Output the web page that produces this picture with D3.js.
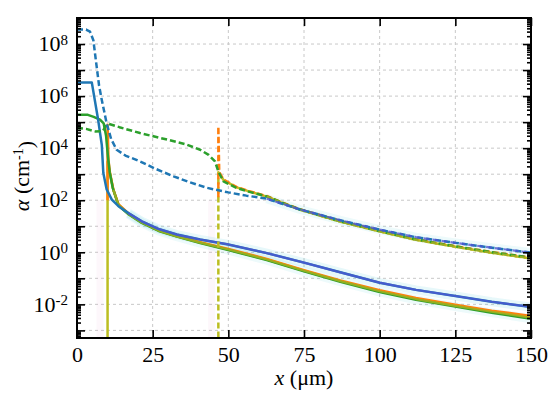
<!DOCTYPE html>
<html>
<head>
<meta charset="utf-8">
<script src="https://cdnjs.cloudflare.com/ajax/libs/d3/7.8.5/d3.min.js"></script>
<style>
  body { margin: 0; background: #fff; }
</style>
</head>
<body>
<div id="myChart"></div>
<script>
// values: [x (um), alpha (cm^-1)]
var blueSolid = [[0,3.3e6],[4.9,3.3e6],[7.0,1.2e5],[8.2,1.3e4],[8.7,1.1e3],[9.8,2.6e2],[11.5,105],
  [13.7,59],[17,32],[21.4,15.5],[26.9,7.9],[33,4.8],[40.7,3.1],[50,2.0],[62.7,0.93],[75,0.40],
  [87,0.17],[100,0.068],[112,0.036],[125,0.021],[137,0.0126],[150,0.0079]];
var greenSolid = [[0,1.9e5],[3.6,1.9e5],[5.5,1.6e5],[7.6,1.25e5],[8.8,9e4],[9.6,3e4],[10.2,5e3],
  [10.8,1.2e3],[11.8,300],[13.7,62],[17,29],[21.4,13.5],[27,6.6],[33,4.0],[40.7,2.25],[50,1.22],
  [62.7,0.50],[75,0.185],[87,0.074],[100,0.030],[112,0.0150],[125,0.0082],[137,0.0048],[150,0.0028]];
var orangeSolid = [[10.1,100],[10.1,8e4],[10.4,3.5e3],[10.9,1.1e3],[12,260],[13.7,70],[17,31],
  [21.4,14.5],[27,7.1],[33,4.3],[40.7,2.45],[50,1.35],[62.7,0.56],[75,0.205],[87,0.083],
  [100,0.035],[112,0.0175],[125,0.0096],[137,0.0057],[150,0.0036]];
var oliveSolid = [[10.1,1e-5],[10.1,3e3],[10.9,1.05e3],[12,250],[13.7,66],[17,30],[21.4,14],
  [27,6.8],[33,4.1],[40.7,2.35],[50,1.28],[62.7,0.53],[75,0.195],[87,0.078],[100,0.032],
  [112,0.0160],[125,0.0088],[137,0.0052],[150,0.0031]];

var blueDashed = [[0,3.6e8],[3,3.6e8],[4.3,3e8],[5.4,1.4e8],[6.5,1.35e7],[7.3,2.5e6],[8.2,7e5],
  [9.8,9e4],[11.3,2.2e4],[13.1,8.7e3],[16,5.2e3],[20.8,3.1e3],[26,1.6e3],[31.9,830],[37,500],
  [42.9,300],[50,200],[56,150],[62.7,115],[68,72],[73.7,44],[87,17],[100,7.4],[112,3.8],
  [125,2.3],[137,1.5],[150,0.97]];
var greenDashed = [[0,6e4],[3,5.5e4],[6,4.4e4],[8.5,4.5e4],[9.5,7e4],[10.6,8.5e4],[14,6.4e4],
  [20.8,3.8e4],[30,2.1e4],[36,1.4e4],[40.7,8.7e3],[43.5,5.5e3],[45.6,3.1e3],[46.7,1.26e3],
  [48.4,525],[52.8,295],[57,210],[62.7,141],[68,78],[73.7,44],[87,15.5],[100,6.5],[112,3.1],
  [125,1.7],[137,1.0],[150,0.62]];
var orangeDashed = [[46.7,130],[46.7,6.8e4],[47.0,1.2e3],[48.4,630],[52.8,320],[57,220],[62.7,145],
  [68,80],[73.7,45],[87,15.8],[100,6.6],[112,3.15],[125,1.72],[137,1.02],[150,0.63]];
var oliveDashed = [[46.7,1e-5],[46.7,1.2e3],[48.4,600],[52.8,310],[57,215],[62.7,138],[68,77],
  [73.7,43],[87,15],[100,6.3],[112,3.0],[125,1.62],[137,0.95],[150,0.58]];

var pinkSolid = [[7.6,1e-5],[7.6,100]];
var pinkDashed = [[44.5,1e-5],[44.5,100]];

var xTicks = [0, 25, 50, 75, 100, 125, 150];
var yDecades = [-3, -2, -1, 0, 1, 2, 3, 4, 5, 6, 7, 8];
var yLabelExps = [-2, 0, 2, 4, 6, 8];

const FONT = "'Liberation Serif'";
const margin = { top: 18, right: 19, bottom: 60, left: 77 };
const width = 550 - margin.left - margin.right;
const height = 398 - margin.top - margin.bottom;

var root = d3.select("#myChart").append("svg")
  .attr("width", 550)
  .attr("height", 398);
var svg = root.append("g")
  .attr("transform", "translate(" + margin.left + "," + margin.top + ")");

var x = d3.scaleLinear().domain([0, 150]).range([0, width]);
var y = d3.scaleLog().domain([5.1e-4, 1e9]).range([height, 0]);

// grid
svg.append("g").selectAll("line").data(yDecades).enter().append("line")
  .attr("x1", 0).attr("x2", width)
  .attr("y1", d => y(Math.pow(10, d))).attr("y2", d => y(Math.pow(10, d)))
  .attr("stroke", "#c8c8c8").attr("stroke-width", 1).attr("stroke-dasharray", "3,3");
svg.append("g").selectAll("line").data(xTicks.slice(1, -1)).enter().append("line")
  .attr("x1", d => x(d)).attr("x2", d => x(d))
  .attr("y1", 0).attr("y2", height)
  .attr("stroke", "#c8c8c8").attr("stroke-width", 1).attr("stroke-dasharray", "3,3");

svg.append("clipPath").attr("id", "clip")
  .append("rect").attr("width", width).attr("height", height);

var line = d3.line().x(d => x(d[0])).y(d => y(d[1]));
var plot = svg.append("g").attr("clip-path", "url(#clip)");

var layers = [
  { data: pinkSolid, color: "#e377c2", w: 7, op: 0.06 },
  { data: pinkDashed, color: "#e377c2", w: 7, op: 0.06 },
  { data: blueSolid.filter(d => d[0] >= 15), color: "#17becf", w: 9, op: 0.10 },
  { data: greenSolid.filter(d => d[0] >= 15), color: "#17becf", w: 9, op: 0.08 },
  { data: blueDashed.filter(d => d[0] >= 62), color: "#17becf", w: 9, op: 0.08 },
  { data: oliveSolid, color: "#bcbd22", w: 2.5 },
  { data: orangeSolid, color: "#ff7f0e", w: 2.5 },
  { data: greenSolid, color: "#2ca02c", w: 2.5 },
  { data: oliveSolid.filter(d => d[0] >= 12), color: "#a8b020", w: 2.2, op: 0.85 },
  { data: blueSolid, color: "#1f77b4", w: 2.5 },
  { data: blueSolid.filter(d => d[0] >= 15), color: "#4f55d2", w: 2.2, op: 0.8 },
  { data: oliveDashed, color: "#bcbd22", w: 2.5, dash: "6,3" },
  { data: orangeDashed, color: "#ff7f0e", w: 2.5, dash: "6,3" },
  { data: greenDashed, color: "#2ca02c", w: 2.5, dash: "6,3" },
  { data: oliveDashed.filter(d => d[0] >= 62.7), color: "#a8b020", w: 2.2, dash: "6,3", op: 0.85 },
  { data: blueDashed, color: "#1f77b4", w: 2.5, dash: "6,3" },
  { data: blueDashed.filter(d => d[0] >= 62.7), color: "#4f55d2", w: 2.2, dash: "6,3", op: 0.8 }
];

layers.forEach(function(s) {
  plot.append("path")
    .datum(s.data)
    .attr("d", line)
    .attr("fill", "none")
    .attr("stroke", s.color)
    .attr("stroke-width", s.w)
    .attr("stroke-opacity", s.op || 1)
    .attr("stroke-dasharray", s.dash || null)
    .attr("stroke-linejoin", "round");
});

// axes, ticks pointing inward
var majorY = yDecades.map(d => Math.pow(10, d));
var minorY = [];
yDecades.concat([-4]).forEach(function(e) {
  for (var k = 2; k < 10; k++) {
    var v = k * Math.pow(10, e);
    if (v >= y.domain()[0] && v <= y.domain()[1]) minorY.push(v);
  }
});

function styleAxis(g) {
  g.select(".domain").remove();
  g.selectAll(".tick line").attr("stroke", "#000").attr("stroke-width", 1.6);
}

svg.append("g")
  .call(d3.axisLeft(y).tickValues(majorY).tickSize(-8).tickFormat("")).call(styleAxis);
svg.append("g")
  .call(d3.axisLeft(y).tickValues(minorY).tickSize(-4).tickFormat("")).call(styleAxis);
svg.append("g").attr("transform", "translate(" + width + ",0)")
  .call(d3.axisRight(y).tickValues(majorY).tickSize(-8).tickFormat("")).call(styleAxis);
svg.append("g").attr("transform", "translate(" + width + ",0)")
  .call(d3.axisRight(y).tickValues(minorY).tickSize(-4).tickFormat("")).call(styleAxis);

var yLab = svg.append("g").selectAll("text").data(yLabelExps).enter().append("text")
  .attr("x", -9)
  .attr("y", d => y(Math.pow(10, d)))
  .attr("dy", "0.33em")
  .attr("text-anchor", "end")
  .style("font-family", FONT)
  .style("font-size", "22px");
yLab.append("tspan").text("10");
yLab.append("tspan").attr("dy", "-0.45em").style("font-size", "15px").text(d => String(d));

var xAxisG = svg.append("g").attr("transform", "translate(0," + height + ")")
  .call(d3.axisBottom(x).tickValues(xTicks).tickSize(-8).tickPadding(8))
  .call(styleAxis);
xAxisG.selectAll("text").style("font-family", FONT).style("font-size", "22px");
svg.append("g")
  .call(d3.axisTop(x).tickValues(xTicks).tickSize(-8).tickFormat(""))
  .call(styleAxis);

// frame
svg.append("rect")
  .attr("width", width).attr("height", height)
  .attr("fill", "none").attr("stroke", "#000").attr("stroke-width", 2);

// axis titles
var xt = root.append("text")
  .attr("x", margin.left + x(75)).attr("y", 385)
  .attr("text-anchor", "middle")
  .style("font-family", FONT).style("font-size", "22px");
xt.append("tspan").style("font-style", "italic").text("x");
xt.append("tspan").text(" (\u03bcm)");

var yt = root.append("text")
  .attr("transform", "translate(29,176) rotate(-90)")
  .attr("text-anchor", "middle")
  .style("font-family", FONT).style("font-size", "22px");
yt.append("tspan").style("font-style", "italic").text("\u03b1");
yt.append("tspan").text(" (cm");
yt.append("tspan").attr("dy", "-0.45em").style("font-size", "14px").text("-1");
yt.append("tspan").attr("dy", "0.45em").text(")");
</script>
</body>
</html>
